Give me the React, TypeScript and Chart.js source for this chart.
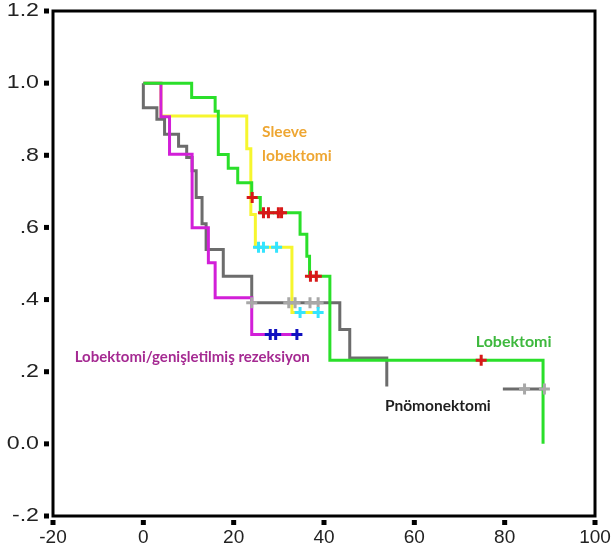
import React, { useEffect, useRef } from "react";
import { Chart, registerables } from "chart.js";

Chart.register(...registerables);

// Lobektomi (green)
const greenTimes = [0, 10.7, 15.9, 16.6, 18.8, 20.9, 24.0, 25.9, 34.7, 36.2, 36.8, 41.3, 88.5];
const greenSurv = [1.0, 0.96, 0.922, 0.802, 0.764, 0.724, 0.683, 0.641, 0.581, 0.52, 0.465, 0.232, 0.0];
const greenCensTimes = [24.1, 26.6, 27.7, 29.9, 30.6, 37.0, 38.3, 74.8];
const greenCensSurv = [0.683, 0.641, 0.641, 0.641, 0.641, 0.465, 0.465, 0.232];

// Sleeve lobektomi (yellow)
const yellowTimes = [0, 3.9, 22.9, 23.8, 24.8, 32.9, 38.7];
const yellowSurv = [1.0, 0.909, 0.818, 0.636, 0.545, 0.364, 0.364];
const yellowCensTimes = [25.5, 26.6, 29.5, 34.7, 38.7];
const yellowCensSurv = [0.545, 0.545, 0.545, 0.364, 0.364];

// Lobektomi/genişletilmiş rezeksiyon (magenta)
const magentaTimes = [0, 3.9, 5.8, 10.8, 14.4, 15.9, 24.0, 34.0];
const magentaSurv = [1.0, 0.907, 0.803, 0.599, 0.502, 0.405, 0.303, 0.303];
const magentaCensTimes = [28.1, 29.3, 34.0];
const magentaCensSurv = [0.303, 0.303, 0.303];

// Pnömonektomi (gray)
const grayTimes = [0, 0, 3.0, 4.7, 7.8, 9.6, 10.8, 11.7, 13.0, 13.9, 17.7, 24.0, 43.5, 45.7, 53.9];
const graySurv = [1.0, 0.932, 0.9, 0.858, 0.825, 0.794, 0.757, 0.683, 0.61, 0.539, 0.465, 0.391, 0.317, 0.238, 0.159];
const grayCensTimes = [24.0, 32.2, 33.6, 36.9, 38.7];
const grayCensSurv = [0.391, 0.391, 0.391, 0.391, 0.391];
const grayTailTimes = [79.6, 88.8];
const grayTailSurv = [0.152, 0.152];
const grayTailCensTimes = [84.4, 88.8];
const grayTailCensSurv = [0.152, 0.152];

const xTickValues = [-20, 0, 20, 40, 60, 80, 100];
const yTickValues = [-0.2, 0, 0.2, 0.4, 0.6, 0.8, 1.0, 1.2];
const yTickLabels = ["-.2", "0.0", ".2", ".4", ".6", ".8", "1.0", "1.2"];

const labelTexts = ["Sleeve", "lobektomi", "Lobektomi", "Lobektomi/genişletilmiş rezeksiyon", "Pnömonektomi"];
const labelX = [26.3, 26.3, 73.6, -15.2, 53.5];
const labelY = [0.864, 0.797, 0.283, 0.239, 0.106];
const labelColors = ["#EEA632", "#EEA632", "#3DB83D", "#A52A92", "#1E1E1E"];
const labelSizes = [15.5, 15.5, 16, 15, 15.5];

const pts = (xs: number[], ys: number[]) => xs.map((x, i) => ({ x, y: ys[i] }));

const frameAndLabels = {
  id: "frameAndLabels",
  afterDatasetsDraw(chart: any) {
    const { ctx, chartArea, scales } = chart;
    ctx.save();
    // frame
    ctx.strokeStyle = "#000";
    ctx.lineWidth = 3;
    ctx.strokeRect(chartArea.left, chartArea.top, chartArea.right - chartArea.left, chartArea.bottom - chartArea.top);
    // tick squares
    ctx.fillStyle = "#000";
    xTickValues.forEach((v) => {
      const px = scales.x.getPixelForValue(v);
      ctx.fillRect(px - 2.5, chartArea.bottom + 4, 5, 5);
    });
    yTickValues.forEach((v) => {
      const py = scales.y.getPixelForValue(v);
      ctx.fillRect(chartArea.left - 9, py - 2.5, 5, 5);
    });
    // y tick labels (horizontally widened like the original)
    ctx.save();
    const sx = 1.22;
    ctx.scale(sx, 1);
    ctx.font = '19px "Liberation Sans", Arial, sans-serif';
    ctx.fillStyle = "#222";
    ctx.textAlign = "right";
    ctx.textBaseline = "middle";
    yTickValues.forEach((v, i) => {
      ctx.fillText(yTickLabels[i], 39 / sx, scales.y.getPixelForValue(v));
    });
    ctx.restore();
    // in-plot labels
    ctx.textAlign = "left";
    ctx.textBaseline = "middle";
    labelTexts.forEach((t, i) => {
      ctx.font = `bold ${labelSizes[i]}px Lato, "Open Sans", sans-serif`;
      ctx.fillStyle = labelColors[i];
      ctx.fillText(t, scales.x.getPixelForValue(labelX[i]), scales.y.getPixelForValue(labelY[i]));
    });
    ctx.restore();
  },
};

export default function App() {
  const ref = useRef<HTMLCanvasElement | null>(null);
  useEffect(() => {
    if (!ref.current) return;
    const line = (data: any, color: string, order: number) => ({
      type: "line" as const,
      data,
      borderColor: color,
      backgroundColor: color,
      borderWidth: 3,
      pointRadius: 0,
      stepped: "before" as const,
      fill: false,
      order,
    });
    const cross = (data: any, color: string) => ({
      type: "scatter" as const,
      data,
      borderColor: color,
      backgroundColor: color,
      pointStyle: "cross" as const,
      pointRadius: 5.5,
      pointBorderWidth: 3,
      showLine: false,
      order: 0,
    });
    const chart = new Chart(ref.current, {
      type: "line",
      data: {
        datasets: [
          line(pts(greenTimes, greenSurv), "#2ADF2A", 1),
          line(pts(magentaTimes, magentaSurv), "#D21FD8", 2),
          line(pts(grayTimes, graySurv), "#6C6C6C", 3),
          line(pts(grayTailTimes, grayTailSurv), "#6C6C6C", 3),
          line(pts(yellowTimes, yellowSurv), "#F6F62E", 4),
          cross(pts(greenCensTimes, greenCensSurv), "#D81818"),
          cross(pts(yellowCensTimes, yellowCensSurv), "#33E4FF"),
          cross(pts(magentaCensTimes, magentaCensSurv), "#1010C0"),
          cross(pts(grayCensTimes, grayCensSurv), "#A8A8A8"),
          cross(pts(grayTailCensTimes, grayTailCensSurv), "#A8A8A8"),
        ] as any,
      },
      options: {
        animation: false,
        responsive: false,
        events: [],
        layout: { padding: { top: 11, right: 16, left: 0, bottom: 0 } },
        plugins: { legend: { display: false }, tooltip: { enabled: false } },
        scales: {
          x: {
            type: "linear",
            min: -20,
            max: 100,
            afterBuildTicks: (s: any) => { s.ticks = xTickValues.map((v) => ({ value: v })); },
            afterFit: (s: any) => { s.height = 38; s.paddingLeft = 0; s.paddingRight = 0; },
            ticks: { color: "#222", font: { family: '"Liberation Sans", Arial, sans-serif', size: 19 }, padding: 1, maxRotation: 0 },
            grid: { drawOnChartArea: false, drawTicks: true, tickLength: 9, tickWidth: 0, tickColor: "rgba(0,0,0,0)" },
            border: { display: false },
          },
          y: {
            type: "linear",
            min: -0.2,
            max: 1.2,
            afterBuildTicks: (s: any) => { s.ticks = yTickValues.map((v) => ({ value: v })); },
            afterFit: (s: any) => { s.width = 53; s.paddingTop = 0; s.paddingBottom = 0; },
            ticks: { display: false },
            grid: { drawOnChartArea: false, drawTicks: false },
            border: { display: false },
          },
        },
      },
      plugins: [frameAndLabels],
    });
    return () => chart.destroy();
  }, []);
  return (
    <div style={{ position: "fixed", left: 0, top: 0, width: 611, height: 554, background: "#fff" }}>
      <canvas ref={ref} width={611} height={554} style={{ width: 611, height: 554, display: "block" }} />
    </div>
  );
}
